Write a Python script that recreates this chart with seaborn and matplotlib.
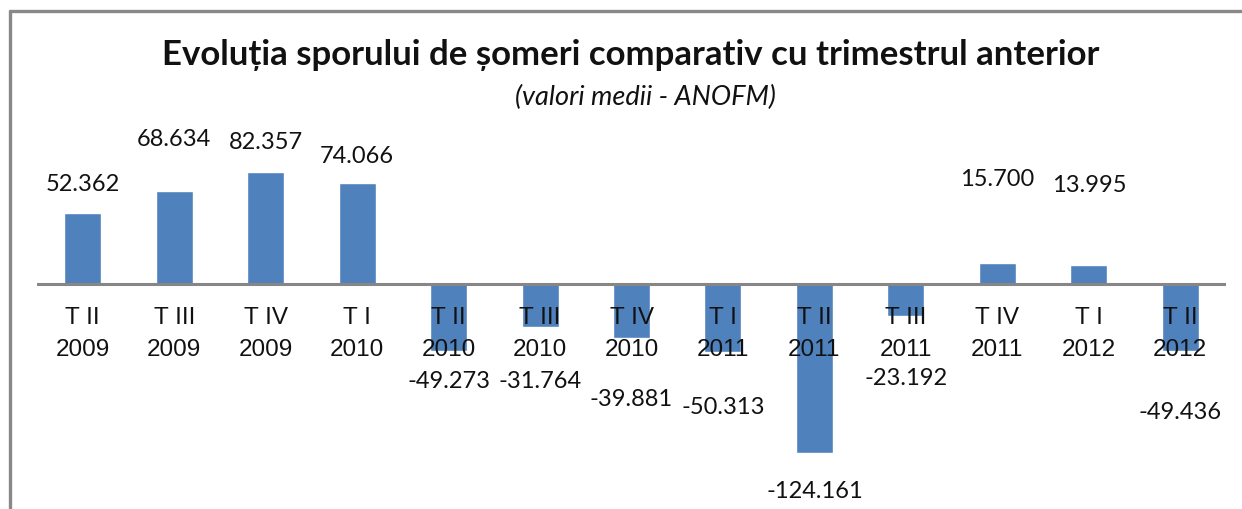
import matplotlib
matplotlib.use("Agg")
import matplotlib.pyplot as plt
import seaborn as sns
import pandas as pd
from matplotlib.lines import Line2D
from matplotlib.transforms import offset_copy

quarters = ["T II", "T III", "T IV", "T I", "T II", "T III", "T IV",
            "T I", "T II", "T III", "T IV", "T I", "T II"]
years = ["2009", "2009", "2009", "2010", "2010", "2010", "2010",
         "2011", "2011", "2011", "2011", "2012", "2012"]
values = [52.362, 68.634, 82.357, 74.066, -49.273, -31.764, -39.881,
          -50.313, -124.161, -23.192, 15.700, 13.995, -49.436]
value_labels = ["52.362", "68.634", "82.357", "74.066", "-49.273", "-31.764", "-39.881",
                "-50.313", "-124.161", "-23.192", "15.700", "13.995", "-49.436"]
# label distance (pixels) from bar end, as placed in the original
label_gap_px = [28, 51, 29, 27, 30, 54, 61, 55, 39, 63, 83, 79, 61]

title = "Evoluția sporului de șomeri comparativ cu trimestrul anterior"
subtitle = "(valori medii - ANOFM)"

sns.set_theme(style="white")
plt.rcParams["font.family"] = ["Lato", "DejaVu Sans"]

W, H = 1242, 509
fig = plt.figure(figsize=(W / 100, H / 100), dpi=100)
fig.patch.set_facecolor("white")

ax = fig.add_axes([37 / W, 0, (1226 - 37) / W, 1])
cats = [f"{q}\n{y}" for q, y in zip(quarters, years)]
df = pd.DataFrame({"cat": cats, "val": values, "idx": range(len(values))})
sns.barplot(data=df, x="idx", y="val", color="#4F81BD", saturation=1,
            width=0.405, ax=ax, errorbar=None)

scale = 1.36  # px per unit
ax.set_xlim(-0.5, len(values) - 0.5)
ax.set_ylim(-225 / scale, 284 / scale)
ax.axis("off")
ax.axhline(0, color="#868686", lw=2.2, zorder=3)

for i, (v, lab, gap) in enumerate(zip(values, value_labels, label_gap_px)):
    sign = 1 if v >= 0 else -1
    tr = offset_copy(ax.transData, fig=fig, x=0, y=sign * gap * 0.72, units="points")
    ax.text(i, v, lab, transform=tr, ha="center", va="center", fontsize=17,
            family=["Lato", "DejaVu Sans"], color="#111111", zorder=5)

for i, c in enumerate(cats):
    tr = offset_copy(ax.transData, fig=fig, x=0, y=-50 * 0.72, units="points")
    ax.text(i, 0, c, transform=tr, ha="center", va="center", fontsize=17.5,
            family=["Liberation Sans", "DejaVu Sans"], linespacing=1.55,
            color="#111111", zorder=5)

fig.text(631 / W, 1 - 55 / H, title, ha="center", va="center", fontsize=25,
         fontweight="bold", family=["Lato", "DejaVu Sans"], color="#111111")
fig.text(645 / W, 1 - 97 / H, subtitle, ha="center", va="center", fontsize=19.5,
         style="italic", family=["Lato", "DejaVu Sans"], color="#111111")

# chart frame
fig.add_artist(Line2D([10 / W, 1.01], [1 - 10.5 / H, 1 - 10.5 / H],
                      transform=fig.transFigure, color="#888888", lw=2.4))
fig.add_artist(Line2D([10 / W, 10 / W], [1 - 10.5 / H, -0.01],
                      transform=fig.transFigure, color="#888888", lw=2.4))

fig.savefig("out.png", dpi=100, facecolor="white")
